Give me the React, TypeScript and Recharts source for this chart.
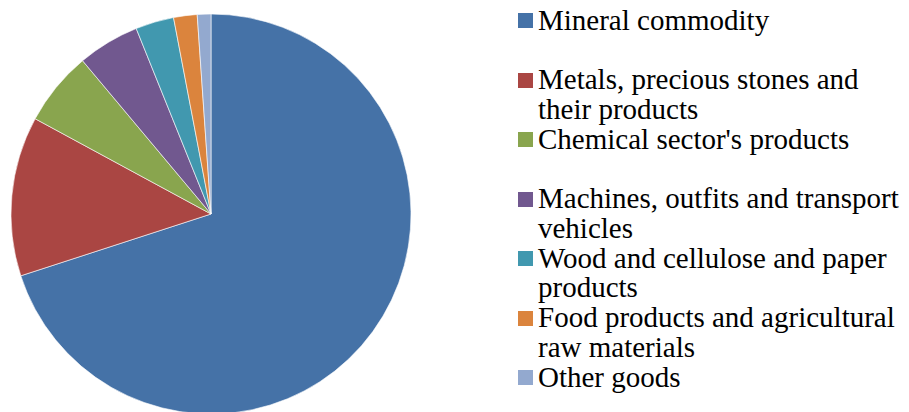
import { PieChart, Pie, Cell, Legend } from "recharts"

const categories = [
  "Mineral commodity",
  "Metals, precious stones and their products",
  "Chemical sector's products",
  "Machines, outfits and transport vehicles",
  "Wood and cellulose and paper products",
  "Food products and agricultural raw materials",
  "Other goods",
]

const shares = [70.0, 12.9, 6.0, 5.0, 3.1, 1.9, 1.1]

const colors = ["#4572A7", "#AA4643", "#89A54E", "#71588F", "#4198AF", "#DB843D", "#93A9CF"]

const data = categories.map((name, i) => ({ name, value: shares[i] }))

const FONT = '"Liberation Serif", "Times New Roman", Times, serif'

function LegendList() {
  return (
    <div style={{ position: "relative", width: 391, height: 412 }}>
      {categories.map((name, i) => (
        <div
          key={name}
          style={{
            position: "absolute",
            left: 0,
            top: 5.5 + 59.5 * i,
            width: 391,
            fontFamily: FONT,
            fontSize: 29,
            lineHeight: "29.5px",
            color: "#000",
          }}
        >
          <span
            style={{
              position: "absolute",
              left: 0,
              top: 7.5,
              width: 15,
              height: 15,
              background: colors[i],
            }}
          />
          <div style={{ marginLeft: 20, width: 368, whiteSpace: "normal" }}>{name}</div>
        </div>
      ))}
    </div>
  )
}

export default function App() {
  return (
    <div style={{ position: "fixed", left: 0, top: 0, width: 909, height: 412, background: "#fff" }}>
      <PieChart width={909} height={412} margin={{ top: 0, right: 0, bottom: 0, left: 0 }}>
        <Pie
          data={data}
          dataKey="value"
          nameKey="name"
          cx={211}
          cy={214}
          outerRadius={200}
          startAngle={90}
          endAngle={-270}
          stroke="#ffffff"
          strokeWidth={0.6}
          isAnimationActive={false}
        >
          {data.map((_, i) => (
            <Cell key={`cell-${i}`} fill={colors[i]} />
          ))}
        </Pie>
        <Legend
          content={() => <LegendList />}
          wrapperStyle={{ position: "absolute", left: 518, top: 0, width: 391, height: 412 }}
        />
      </PieChart>
    </div>
  )
}
